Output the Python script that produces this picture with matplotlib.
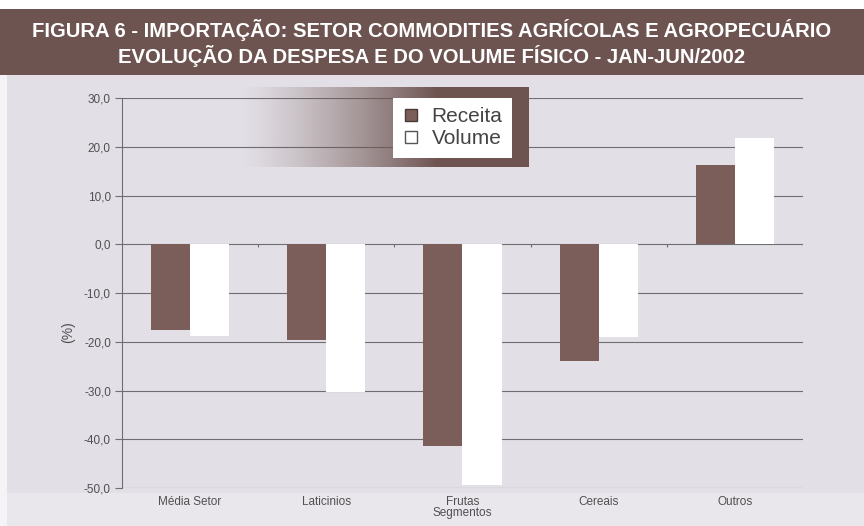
import numpy as np
import matplotlib
matplotlib.use("Agg")
import matplotlib.pyplot as plt
from matplotlib.patches import Rectangle
from matplotlib.lines import Line2D

# dados (variação %, jan-jun/2002)
segmentos = ["Média Setor", "Laticinios", "Frutas", "Cereais", "Outros"]
receita = [-17.5, -19.6, -41.4, -24.0, 16.3]
volume = [-18.8, -30.4, -49.3, -19.0, 21.8]
yticks = [30, 20, 10, 0, -10, -20, -30, -40, -50]

titulo = ("FIGURA 6 - IMPORTAÇÃO: SETOR COMMODITIES AGRÍCOLAS E AGROPECUÁRIO\n"
          "EVOLUÇÃO DA DESPESA E DO VOLUME FÍSICO - JAN-JUN/2002")

cor_receita = "#7b5d59"
cor_fundo = "#e2dfe6"
cor_faixa = "#6e5451"
cor_grade = "#6f6f6f"
fonte = ["Liberation Sans", "DejaVu Sans"]

fig = plt.figure(figsize=(8.64, 5.26), dpi=100, facecolor=cor_fundo)

# faixa do título
fig.patches.append(Rectangle((0, 0.857), 1, 0.125, transform=fig.transFigure,
                             facecolor=cor_faixa, edgecolor="none", zorder=-1))
fig.patches.append(Rectangle((0, 0.982), 1, 0.02, transform=fig.transFigure,
                             facecolor="white", edgecolor="none", zorder=-1))
fig.patches.append(Rectangle((0, 0), 1, 0.062, transform=fig.transFigure,
                             facecolor="#e9e7ec", edgecolor="none", zorder=-1))
fig.patches.append(Rectangle((0, 0), 0.008, 0.857, transform=fig.transFigure,
                             facecolor="#f4f4f6", edgecolor="none", zorder=-1))
fig.text(0.5, 0.918, titulo, ha="center", va="center", color="white",
         fontsize=14.6, fontweight="bold", linespacing=1.25, family=fonte)

ax = fig.add_axes([0.1412, 0.0722, 0.7882, 0.7415])
ax.set_facecolor("none")

x = np.arange(len(segmentos))
w = 0.287
ax.bar(x - w / 2, receita, w, color=cor_receita, edgecolor="none", zorder=3)
ax.bar(x + w / 2, volume, w, color="white", edgecolor="none", zorder=3)

ax.set_xlim(-0.5, len(segmentos) - 0.5)
ax.set_ylim(-50, 30)
ax.set_yticks(yticks)
ax.set_yticklabels([f"{v:.1f}".replace(".", ",") for v in yticks])
ax.grid(axis="y", color=cor_grade, linewidth=0.8, zorder=1)
ax.set_xticks(x)
ax.set_xticklabels(segmentos)
ax.tick_params(axis="x", length=0, pad=6)
ax.tick_params(axis="y", length=5, direction="out", color=cor_grade, pad=3)
for lab in ax.get_xticklabels() + ax.get_yticklabels():
    lab.set_family(fonte)
    lab.set_fontsize(8.5)
    lab.set_color("#505050")

for s in ["top", "right", "bottom"]:
    ax.spines[s].set_visible(False)
ax.spines["left"].set_color(cor_grade)
ax.spines["left"].set_linewidth(0.8)

# marcas do eixo de categorias sobre a linha do zero
ax.vlines(np.arange(len(segmentos)) + 0.5, -0.6, 0, color=cor_grade, lw=0.8, zorder=2)

ax.set_ylabel("(%)", fontsize=10, color="#505050", family=fonte)
ax.yaxis.set_label_coords(-0.069, 0.40)
ax.set_xlabel("Segmentos", fontsize=8.5, color="#505050", labelpad=-1, family=fonte)

# fundo degradê da legenda
gax = fig.add_axes([200 / 864, 1 - 167 / 526, 329 / 864, 80 / 526])
gax.axis("off")
grad = np.zeros((1, 256, 4))
r, g, b = matplotlib.colors.to_rgb(cor_faixa)
grad[..., 0], grad[..., 1], grad[..., 2] = r, g, b
t = np.linspace(0, 1, 256)
grad[0, :, 3] = np.clip((t - 0.12) / 0.6, 0, 1) ** 1.3
gax.imshow(grad, aspect="auto", extent=[0, 1, 0, 1])
gax.set_xlim(0, 1)
gax.set_ylim(0, 1)

handles = [Line2D([], [], marker="s", ls="none", markersize=9,
                  markerfacecolor=cor_receita, markeredgecolor="#4a3a38"),
           Line2D([], [], marker="s", ls="none", markersize=9,
                  markerfacecolor="white", markeredgecolor="#555555")]
leg = fig.legend(handles, ["Receita", "Volume"], loc="upper left",
                 bbox_to_anchor=(393 / 864, 1 - 98 / 526), frameon=True,
                 fancybox=False, handlelength=0.8, handletextpad=0.6,
                 borderpad=0.45, labelspacing=0.15, borderaxespad=0,
                 prop={"family": fonte, "size": 15})
leg.get_frame().set_facecolor("white")
leg.get_frame().set_edgecolor("none")
leg.get_frame().set_alpha(1)
for txt in leg.get_texts():
    txt.set_color("#444444")

fig.savefig("out.png", dpi=100, facecolor=fig.get_facecolor())
